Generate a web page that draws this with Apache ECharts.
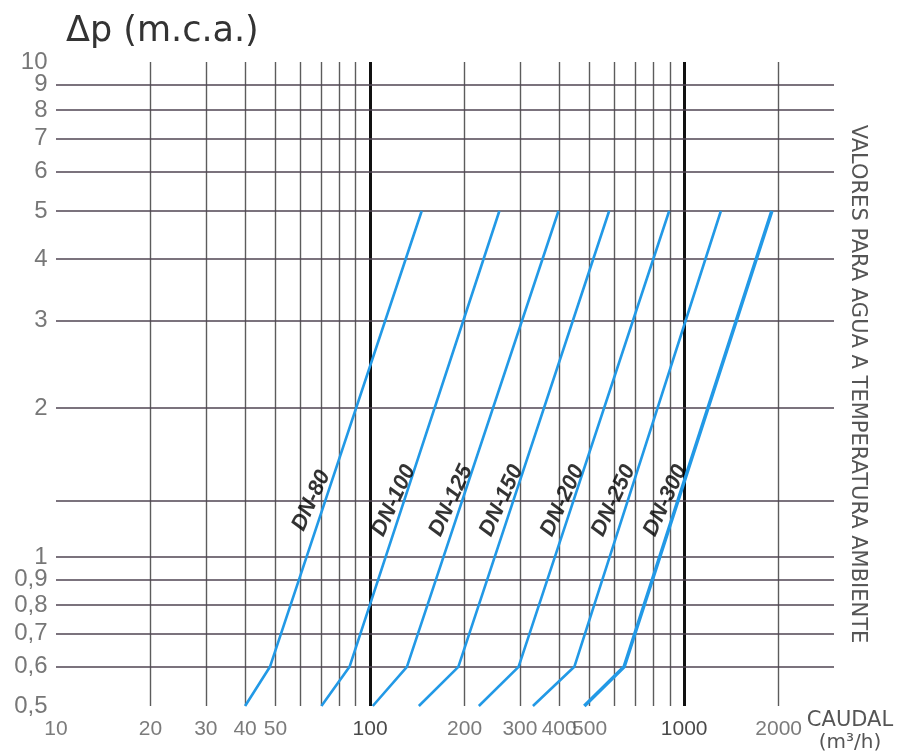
<!DOCTYPE html>
<html>
<head>
<meta charset="utf-8">
<script src="https://cdn.jsdelivr.net/npm/echarts@6/dist/echarts.min.js"></script>
<style>
html,body{margin:0;padding:0;background:#fff;}
#chart{width:897px;height:756px;}
</style>
</head>
<body>
<div id="chart"></div>
<script>
// ---- data ----
const xTickLabels = [10, 20, 30, 40, 50, 100, 200, 300, 400, 500, 1000, 2000];
const xGridValues = [20, 30, 40, 50, 60, 70, 80, 90, 100, 200, 300, 400, 500, 600, 700, 800, 900, 1000, 2000];
const xMajorValues = [100, 1000];
const yTickLabels = [10, 9, 8, 7, 6, 5, 4, 3, 2, 1, 0.9, 0.8, 0.7, 0.6, 0.5];
const yGridValues = [9, 8, 7, 6, 5, 4, 3, 2, 1.3, 1, 0.9, 0.8, 0.7, 0.6];
const dnNames = ['DN-80', 'DN-100', 'DN-125', 'DN-150', 'DN-200', 'DN-250', 'DN-300'];
const dpLevels = [0.5, 0.6, 5];                       // Δp at the three points of each curve
const flowAtLow = [40, 70, 102, 143, 222, 330, 481];  // Q at Δp 0.5
const flowAtKnee = [48, 86, 131, 191, 297, 447, 644]; // Q at Δp 0.6
const flowAtTop = [146, 258, 398, 577, 896, 1309, 1902]; // Q at Δp 5
const labelFlow = [65, 119, 181, 262, 410, 596, 872]; // label anchor Q
const labelDp = 1.3;                                   // label anchor Δp

const xMin = 10, xMax = 3000, yMin = 0.5, yMax = 10;

const chart = echarts.init(document.getElementById('chart'), null, {renderer: 'canvas'});

const numFont = "'Liberation Sans', Arial, sans-serif";
const blue = '#2299e6';

const curveSeries = dnNames.map((name, i) => ({
  type: 'line',
  name: name,
  z: 5,
  showSymbol: false,
  symbol: 'none',
  clip: false,
  lineStyle: {color: blue, width: i === dnNames.length - 1 ? 3.6 : 2.6},
  data: [[flowAtLow[i], dpLevels[0]], [flowAtKnee[i], dpLevels[1]], [flowAtTop[i], dpLevels[2]]]
}));

const gridSeries = {
  type: 'scatter',
  z: 1,
  data: [],
  markLine: {
    silent: true,
    symbol: ['none', 'none'],
    label: {show: false},
    animation: false,
    data: [
      ...xGridValues.map(v => ({
        xAxis: v,
        lineStyle: xMajorValues.includes(v)
          ? {color: '#111', width: 3, type: 'solid'}
          : {color: '#5c5c5c', width: 1.4, type: 'solid'}
      })),
      ...yGridValues.map(v => ({
        yAxis: v,
        lineStyle: {color: '#4f4452', width: 1.5, type: 'solid'}
      }))
    ]
  }
};

const xLabelSeries = {
  type: 'scatter',
  z: 6,
  clip: false,
  symbolSize: 1,
  itemStyle: {color: 'rgba(0,0,0,0)'},
  data: xTickLabels.map(v => ({
    value: [v, yMin],
    label: xMajorValues.includes(v) ? {color: '#1a1a1a'} : {}
  })),
  label: {
    show: true,
    position: 'bottom',
    distance: 12,
    fontFamily: numFont,
    fontSize: 21,
    color: '#5a5a5a',
    formatter: p => String(p.value[0])
  }
};

const yLabelSeries = {
  type: 'scatter',
  z: 6,
  clip: false,
  symbolSize: 1,
  itemStyle: {color: 'rgba(0,0,0,0)'},
  data: yTickLabels.map(v => [xMin, v]),
  label: {
    show: true,
    position: 'left',
    distance: 8,
    fontFamily: numFont,
    fontSize: 24,
    color: '#555',
    formatter: p => String(p.value[1]).replace('.', ',')
  }
};

const dnLabelSeries = {
  type: 'scatter',
  z: 7,
  clip: false,
  symbolSize: 1,
  itemStyle: {color: 'rgba(0,0,0,0)'},
  data: dnNames.map((n, i) => ({name: n, value: [labelFlow[i], labelDp]})),
  label: {
    show: true,
    position: 'inside',
    rotate: 65,
    fontFamily: numFont,
    fontSize: 22,
    fontWeight: 'bold',
    fontStyle: 'italic',
    color: '#000',
    formatter: p => p.name
  }
};

const option = {
  animation: false,
  backgroundColor: '#ffffff',
  grid: {left: 56, top: 62, width: 778, height: 644},
  xAxis: {
    type: 'log', logBase: 10, min: xMin, max: xMax,
    axisLine: {show: false}, axisTick: {show: false}, axisLabel: {show: false}, splitLine: {show: false}
  },
  yAxis: {
    type: 'log', logBase: 10, min: yMin, max: yMax,
    axisLine: {show: false}, axisTick: {show: false}, axisLabel: {show: false}, splitLine: {show: false}
  },
  graphic: [
    {
      type: 'text', left: 66, top: 14,
      style: {text: 'Δp (m.c.a.)', font: "35px 'DejaVu Sans', sans-serif", fill: '#333'}
    },
    {
      type: 'text', x: 857, y: 384, rotation: -Math.PI / 2,
      style: {
        text: 'VALORES PARA AGUA A TEMPERATURA AMBIENTE',
        font: "21px 'DejaVu Sans', sans-serif", fill: '#555',
        align: 'center', verticalAlign: 'middle', textAlign: 'center', textVerticalAlign: 'middle'
      }
    },
    {
      type: 'text', x: 850, y: 721,
      style: {
        text: 'CAUDAL', font: "21px 'DejaVu Sans', sans-serif", fill: '#555',
        align: 'center', verticalAlign: 'middle', textAlign: 'center', textVerticalAlign: 'middle'
      }
    },
    {
      type: 'text', x: 850, y: 743,
      style: {
        text: '(m³/h)', font: "20px 'DejaVu Sans', sans-serif", fill: '#555',
        align: 'center', verticalAlign: 'middle', textAlign: 'center', textVerticalAlign: 'middle'
      }
    }
  ],
  series: [gridSeries, ...curveSeries, xLabelSeries, yLabelSeries, dnLabelSeries]
};

chart.setOption(option);
</script>
</body>
</html>
